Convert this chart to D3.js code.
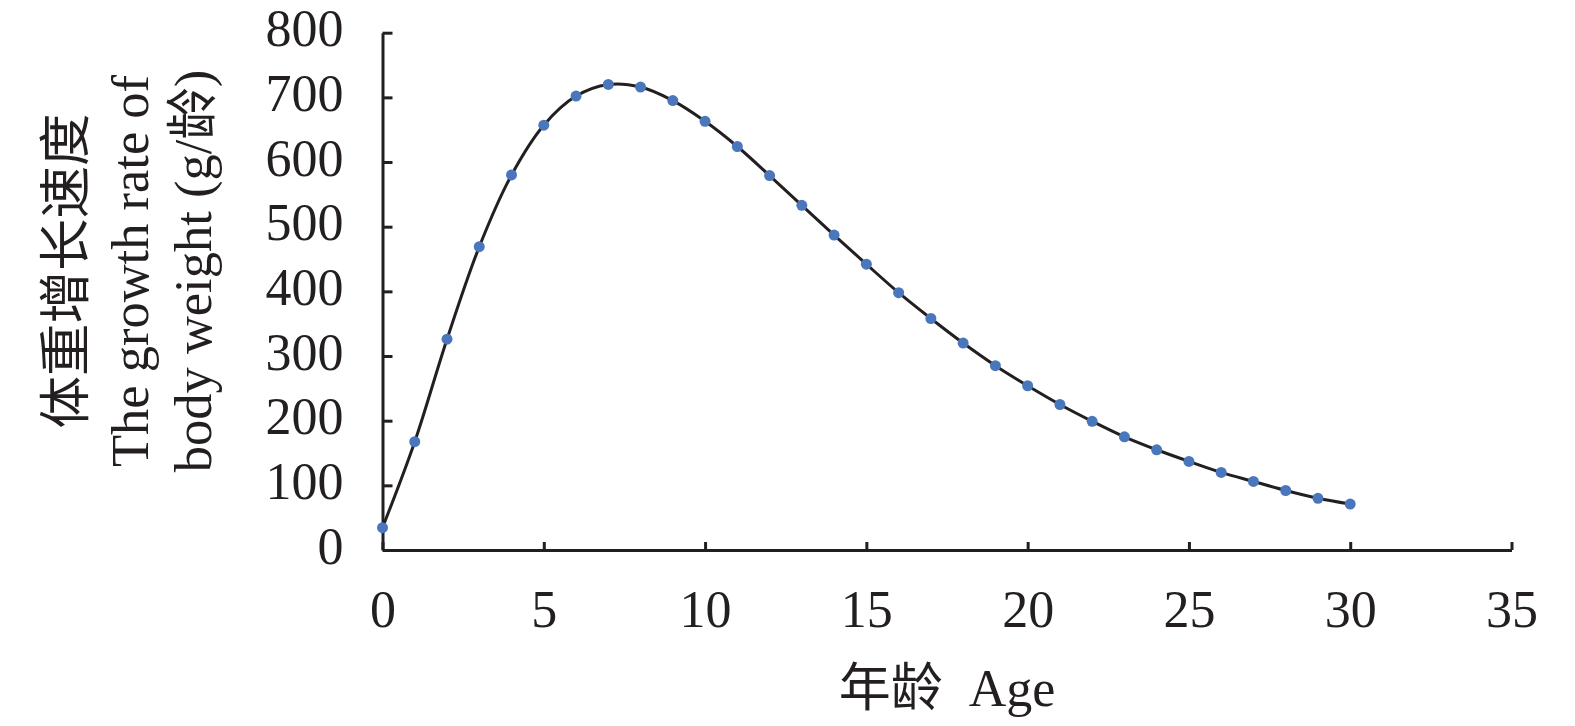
<!DOCTYPE html>
<html>
<head>
<meta charset="utf-8">
<script src="https://cdn.jsdelivr.net/npm/d3@7"></script>
<style>
  body { margin: 0; background: #fff; }
  text { font-family: "Liberation Serif", "Noto Sans CJK SC", serif; fill: #231f20; }
</style>
</head>
<body>
<div class="container"></div>
<script>
// age (x) and growth rate of body weight (y, g/age)
var ages = d3.range(0, 31);
var rates = [34.5, 167.5, 326, 469, 580, 657, 702, 720, 716, 695, 663, 624, 579, 533, 487,
             442, 398, 358, 320, 285, 254, 225, 199, 175, 155, 137, 120, 106, 92, 80, 71];
var xTicks = [0, 5, 10, 15, 20, 25, 30, 35];
var yTicks = [0, 100, 200, 300, 400, 500, 600, 700, 800];

var width = 1575;
var height = 726;
var margin = { top: 32.7, right: 63.5, bottom: 176, left: 382.5 };
var ink = "#231f20";

var svg = d3.select("body").select(".container")
    .append("svg")
    .attr("width", width)
    .attr("height", height);

var g = svg.append("g")
    .attr("transform", "translate(" + margin.left + "," + margin.top + ")");

var w = width - margin.left - margin.right;
var h = height - margin.top - margin.bottom;

var x = d3.scaleLinear().domain([0, 35]).range([0, w]);
var y = d3.scaleLinear().domain([0, 800]).range([h, 0]);

var xAxis = g.append("g")
    .attr("transform", "translate(0," + h + ")")
    .call(d3.axisBottom(x).tickValues(xTicks).tickSizeInner(-8).tickSizeOuter(0).tickPadding(40));

var yAxis = g.append("g")
    .call(d3.axisLeft(y).tickValues(yTicks).tickSizeInner(-10).tickSizeOuter(0).tickPadding(39));

[xAxis, yAxis].forEach(function(a){
    a.selectAll("path, line").attr("stroke", ink).attr("stroke-width", 3);
    a.selectAll("text")
        .style("font-size", "52px")
        .style("font-family", "'Liberation Serif', serif")
        .attr("fill", ink);
});
yAxis.selectAll("text").attr("dy", "0.25em");

var line = d3.line()
    .x(function(d, i) { return x(ages[i]); })
    .y(function(d) { return y(d); })
    .curve(d3.curveCatmullRom);

g.append("path")
    .datum(rates)
    .attr("fill", "none")
    .attr("stroke", ink)
    .attr("stroke-width", 3)
    .attr("d", line);

g.selectAll(".dot")
    .data(rates)
    .enter()
    .append("circle")
    .attr("class", "dot")
    .attr("cx", function(d, i) { return x(ages[i]); })
    .attr("cy", function(d) { return y(d); })
    .attr("r", 5.5)
    .attr("fill", "#4a77bc");

// x axis title
svg.append("text")
    .attr("x", margin.left + w / 2)
    .attr("y", 706)
    .attr("text-anchor", "middle")
    .attr("xml:space", "preserve")
    .style("font-size", "52px")
    .text("年龄  Age");

// y axis title, three lines
var yTitle = ["体重增长速度", "The growth rate of", "body weight (g/龄)"];
var yBase = [84, 148, 211];
yTitle.forEach(function(t, i){
    svg.append("text")
        .attr("transform", "translate(" + yBase[i] + ",271) rotate(-90)")
        .attr("text-anchor", "middle")
        .style("font-size", "52.5px")
        .text(t);
});
</script>
</body>
</html>
